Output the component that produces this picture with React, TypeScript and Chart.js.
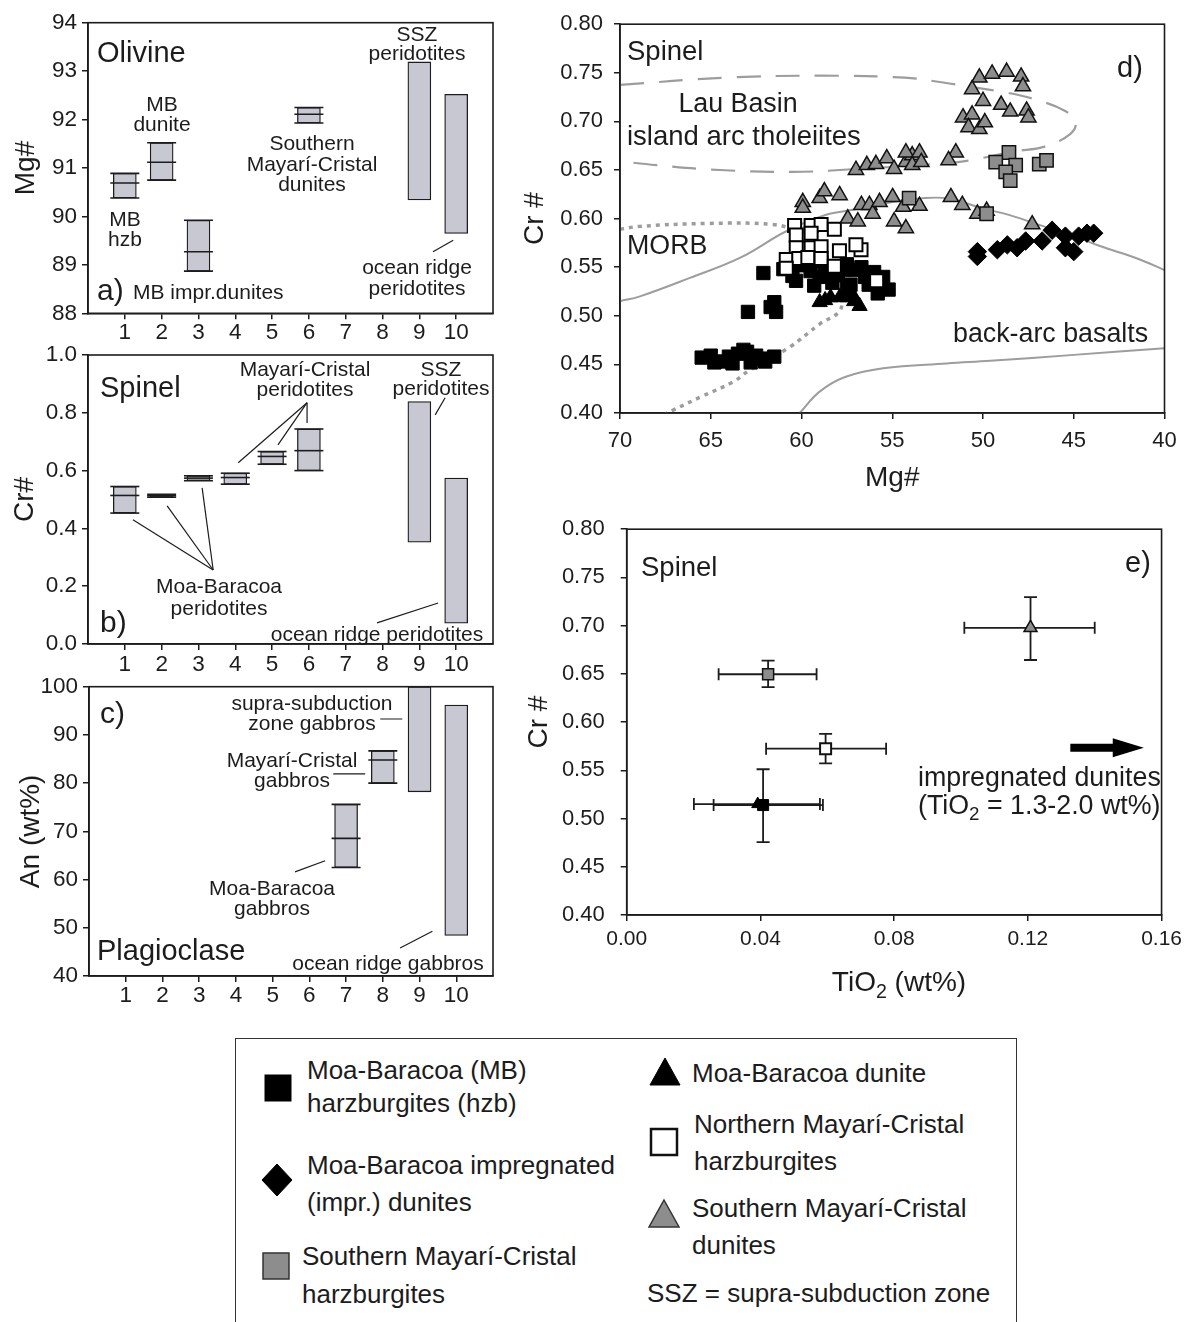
import React, { useEffect, useRef } from "react";
import { Chart, registerables } from "chart.js";

Chart.register(...registerables);

const FONT = "'Liberation Sans', Arial, Helvetica, sans-serif";
const INK = "#1c1c1c";
const BOX_FILL = "#c8c8d2";
const MARK_GRAY = "#8d8d8d";
const CURVE_GRAY = "#9d9d9d";

// ---------------- a) Olivine Mg# ----------------
const aCategories = [1, 2, 3, 6, 9, 10];
const aMin = [90.38, 90.75, 88.87, 91.93, 90.34, 89.65];
const aMax = [90.89, 91.52, 89.92, 92.25, 93.19, 92.52];
const aMean: (number | null)[] = [90.69, 91.12, 89.27, 92.11, null, null];
const aLeaders = [[9.37, 89.27, 9.92, 89.51]];

// ---------------- b) Spinel Cr# ----------------
const bCategories = [1, 2, 3, 4, 5, 6, 9, 10];
const bMin = [0.453, 0.508, 0.565, 0.553, 0.622, 0.6, 0.352, 0.072];
const bMax = [0.545, 0.518, 0.582, 0.591, 0.666, 0.744, 0.839, 0.574];
const bMean: (number | null)[] = [0.514, 0.513, 0.574, 0.576, 0.649, 0.669, null, null];
const bLeaders = [
  [5.95, 0.835, 4.08, 0.627],
  [5.95, 0.835, 5.16, 0.689],
  [5.95, 0.835, 5.95, 0.765],
  [9.7, 0.852, 9.43, 0.793],
  [3.4, 0.256, 1.22, 0.43],
  [3.4, 0.256, 2.15, 0.478],
  [3.4, 0.256, 3.1, 0.54],
  [7.85, 0.073, 9.51, 0.142],
];

// ---------------- c) Plagioclase An ----------------
const cCategories = [7, 8, 9, 10];
const cMin = [62.5, 80.0, 78.2, 48.4];
const cMax = [75.6, 86.7, 100, 96.2];
const cMean: (number | null)[] = [68.55, 84.8, null, null];
const cLeaders = [
  [7.93, 93.3, 8.53, 93.3],
  [6.65, 81.9, 7.52, 81.9],
  [5.61, 61.6, 6.43, 63.9],
  [8.47, 45.8, 9.35, 49.3],
];

// ---------------- d) Spinel Cr# vs Mg# ----------------
const mbHzbMg = [61.0, 60.5, 60.0, 59.5, 59.0, 58.5, 58.0, 57.5, 57.0, 56.5, 60.3, 59.3, 58.3, 57.3, 59.7, 57.7, 60.7, 58.7, 56.7, 56.3, 57.5, 55.8, 55.2, 58.9, 56.0, 55.5,
  62.1, 61.5, 61.7, 61.4, 62.95,
  65.5, 65.0, 64.5, 64.0, 63.5, 63.0, 62.5, 62.0, 61.5, 64.8, 63.8, 62.8, 63.2, 62.2];
const mbHzbCr = [0.548, 0.541, 0.552, 0.546, 0.54, 0.55, 0.542, 0.553, 0.547, 0.54, 0.536, 0.531, 0.534, 0.532, 0.556, 0.547, 0.553, 0.545, 0.55, 0.532, 0.528, 0.523, 0.527, 0.556, 0.545, 0.54,
  0.544, 0.514, 0.509, 0.504, 0.504,
  0.457, 0.459, 0.453, 0.458, 0.461, 0.463, 0.459, 0.453, 0.458, 0.452, 0.451, 0.452, 0.465, 0.456];

const mbDunMg = [59.0, 58.4, 57.9, 57.45, 57.1, 56.8, 58.7, 57.7, 57.2];
const mbDunCr = [0.514, 0.519, 0.519, 0.519, 0.515, 0.51, 0.516, 0.521, 0.522];

const mbImprMg = [50.31, 50.31, 49.21, 48.66, 48.12, 47.65, 46.74, 46.19, 45.46, 45.46, 45.0, 44.73, 44.27, 43.9];
const mbImprCr = [0.566, 0.561, 0.568, 0.573, 0.57, 0.577, 0.577, 0.588, 0.582, 0.57, 0.566, 0.582, 0.585, 0.585];

const nmcHzbMg = [60.38, 59.47, 58.92, 58.19, 59.47, 60.29, 60.29, 59.47, 58.92, 57.91, 56.72, 60.84, 60.15, 59.65, 58.92, 58.19, 60.84, 55.86, 57.0];
const nmcHzbCr = [0.593, 0.593, 0.594, 0.589, 0.585, 0.583, 0.57, 0.57, 0.571, 0.567, 0.568, 0.558, 0.559, 0.56, 0.559, 0.551, 0.549, 0.536, 0.573];

const smcHzbMg = [48.57, 49.3, 48.2, 48.75, 48.5, 46.9, 46.5, 54.07, 49.8];
const smcHzbCr = [0.668, 0.658, 0.655, 0.648, 0.639, 0.656, 0.66, 0.621, 0.605];

const smcDunMg = [50.2, 49.5, 48.7, 47.9, 47.8, 50.6, 50.0, 49.0, 48.5, 47.6, 47.5, 51.1, 50.6, 50.8, 50.2, 49.9,
  57.0, 56.4, 55.9, 55.3, 54.9, 54.25, 53.9, 54.25, 53.5, 53.9, 53.4, 51.5, 51.9,
  59.93, 59.0, 58.74, 57.9, 59.93, 57.45, 56.9, 56.7, 56.26, 56.08, 55.7, 54.98, 54.9, 54.25, 54.4, 53.5, 51.77, 51.14, 50.31, 49.8, 47.29];
const smcDunCr = [0.745, 0.749, 0.751, 0.746, 0.736, 0.733, 0.721, 0.717, 0.71, 0.711, 0.704, 0.704, 0.707, 0.694, 0.692, 0.699,
  0.65, 0.655, 0.656, 0.662, 0.651, 0.658, 0.665, 0.668, 0.668, 0.655, 0.658, 0.668, 0.66,
  0.617, 0.621, 0.628, 0.624, 0.611, 0.6, 0.597, 0.614, 0.614, 0.605, 0.617, 0.622, 0.597, 0.59, 0.612, 0.613, 0.622, 0.614, 0.605, 0.608, 0.594];

// field boundaries (Mg#, Cr#)
const lauMg = [70, 64.2, 59.0, 54.3, 52.2, 50.5, 48.8, 47.2, 45.5, 44.9, 45.2, 46.6, 48.3, 50.7, 52.0, 57.0, 60.5, 64.5, 68.0, 70];
const lauCr = [0.7375, 0.745, 0.747, 0.745, 0.74, 0.735, 0.73, 0.723, 0.711, 0.699, 0.687, 0.674, 0.669, 0.66, 0.657, 0.651, 0.648, 0.65, 0.655, 0.659];
const morbMg = [70, 68.9, 65.2, 61.6, 60.4, 59.5, 58.6, 58.0, 57.8, 57.9, 59.0, 60.66, 62.86, 63.77, 65.5, 67.07, 67.5];
const morbCr = [0.589, 0.592, 0.595, 0.594, 0.588, 0.578, 0.56, 0.54, 0.522, 0.505, 0.4915, 0.4677, 0.444, 0.432, 0.417, 0.403, 0.399];
const arcUpperMg = [70, 68.9, 66.15, 63.4, 60.84, 58.64, 57.18, 55.0, 53.5, 51.9, 50.04, 48.57, 46.9, 45.1, 43.6, 41.5, 40];
const arcUpperCr = [0.515, 0.52, 0.539, 0.5595, 0.587, 0.604, 0.609, 0.617, 0.6207, 0.6207, 0.6105, 0.6038, 0.5935, 0.583, 0.572, 0.559, 0.547];
const backArcMg = [60.1, 59.0, 57.6, 55.5, 52.0, 49.6, 45.0, 40];
const backArcCr = [0.4, 0.422, 0.437, 0.446, 0.451, 0.4537, 0.4598, 0.4667];

// ---------------- e) Spinel Cr# vs TiO2 ----------------
// order: MB hzb, MB dunite, S. Mayarí-Cristal hzb, N. Mayarí-Cristal hzb, S. Mayarí-Cristal dunites
const eTiO2 = [0.0408, 0.0392, 0.0423, 0.0595, 0.1208];
const eCr = [0.514, 0.515, 0.6496, 0.5724, 0.6977];
const eTiO2Low = [0.026, 0.0201, 0.0275, 0.0417, 0.101];
const eTiO2High = [0.0587, 0.0578, 0.0568, 0.0776, 0.14];
const eCrLow: (number | null)[] = [0.4755, null, 0.6362, 0.5572, 0.6644];
const eCrHigh: (number | null)[] = [0.5511, null, 0.6637, 0.5878, 0.7296];
const arrowTiO2 = [0.1327, 0.1454, 0.1547];
const arrowCr = 0.5734;

// ---------------- helpers ----------------
const zip = (xs: number[], ys: number[]) => xs.map((x, i) => ({ x, y: ys[i] }));

const framePlugin = {
  id: "frame",
  afterDatasetsDraw(chart: any) {
    const { ctx, chartArea } = chart;
    ctx.save();
    ctx.strokeStyle = INK;
    ctx.lineWidth = 1.6;
    ctx.strokeRect(chartArea.left, chartArea.top, chartArea.right - chartArea.left, chartArea.bottom - chartArea.top);
    ctx.restore();
  },
};

const arrowPlugin = {
  id: "arrow",
  afterDatasetsDraw(chart: any) {
    const { ctx } = chart;
    const xs = chart.scales.x;
    const ys = chart.scales.y;
    const x0 = xs.getPixelForValue(arrowTiO2[0]);
    const x1 = xs.getPixelForValue(arrowTiO2[1]);
    const x2 = xs.getPixelForValue(arrowTiO2[2]);
    const y = ys.getPixelForValue(arrowCr);
    ctx.save();
    ctx.fillStyle = "#000";
    ctx.beginPath();
    ctx.moveTo(x0, y - 4);
    ctx.lineTo(x1, y - 4);
    ctx.lineTo(x1, y - 9.5);
    ctx.lineTo(x2, y);
    ctx.lineTo(x1, y + 9.5);
    ctx.lineTo(x1, y + 4);
    ctx.lineTo(x0, y + 4);
    ctx.closePath();
    ctx.fill();
    ctx.restore();
  },
};

const tickGrid = { display: true, drawOnChartArea: false, drawTicks: true, tickLength: 6, color: INK, lineWidth: 1.5, offset: false };
const axisBorder = { display: true, color: INK, width: 1.6 };

type Area = { l: number; t: number; r: number; b: number };

function boxChart(p: {
  cats: number[]; min: number[]; max: number[]; mean: (number | null)[]; leaders: number[][];
  yMin: number; yMax: number; yStep: number; yDigits: number; yTitle: string; titlePad: number;
  w: number; h: number; area: Area; xPad: number;
}) {
  const caps: { x: number; y: number }[] = [];
  p.cats.forEach((x, i) => {
    const m = p.mean[i];
    if (m != null) caps.push({ x, y: p.min[i] }, { x, y: p.max[i] }, { x, y: m });
  });
  return {
    type: "bar",
    data: {
      datasets: [
        {
          type: "bar",
          data: p.cats.map((x, i) => ({ x, y: [p.min[i], p.max[i]] })),
          backgroundColor: BOX_FILL,
          borderColor: INK,
          borderWidth: 1.3,
          borderSkipped: false,
          barThickness: 23,
          order: 3,
        },
        {
          type: "scatter",
          data: caps,
          pointStyle: "line",
          pointRadius: 14.5,
          pointBorderColor: INK,
          pointBorderWidth: 1.6,
          borderColor: INK,
          order: 2,
        },
        ...p.leaders.map((l) => ({
          type: "line",
          data: [{ x: l[0], y: l[1] }, { x: l[2], y: l[3] }],
          borderColor: INK,
          borderWidth: 1.2,
          pointRadius: 0,
          order: 1,
        })),
      ],
    },
    options: {
      animation: false,
      responsive: false,
      devicePixelRatio: 1,
      events: [],
      layout: { padding: { left: 0, top: p.area.t, right: p.w - p.area.r, bottom: 0 } },
      plugins: { legend: { display: false }, tooltip: { enabled: false } },
      scales: {
        x: {
          type: "linear",
          min: 0,
          max: 11,
          offset: false,
          afterBuildTicks: (s: any) => {
            s.ticks = s.ticks.filter((t: any) => t.value >= 1 && t.value <= 10);
          },
          afterFit: (s: any) => {
            s.height = p.h - p.area.b;
          },
          ticks: { stepSize: 1, autoSkip: false, maxRotation: 0, padding: p.xPad, color: INK, font: { family: FONT, size: 22.5 } },
          grid: tickGrid,
          border: axisBorder,
        },
        y: {
          type: "linear",
          min: p.yMin,
          max: p.yMax,
          beginAtZero: false,
          afterFit: (s: any) => {
            s.width = p.area.l;
          },
          ticks: {
            stepSize: p.yStep,
            padding: 5,
            color: INK,
            font: { family: FONT, size: 22.5 },
            callback: (v: any) => Number(v).toFixed(p.yDigits),
          },
          grid: tickGrid,
          border: axisBorder,
          title: { display: true, text: p.yTitle, color: INK, font: { family: FONT, size: 28 }, padding: { top: p.titlePad, bottom: 0 } },
        },
      },
    },
    plugins: [framePlugin],
  };
}

function scatterSet(xs: number[], ys: number[], style: string, radius: number, fill: string, stroke: string, bw: number, order: number) {
  return {
    type: "scatter",
    data: zip(xs, ys),
    pointStyle: style,
    pointRadius: radius,
    pointBackgroundColor: fill,
    pointBorderColor: stroke,
    pointBorderWidth: bw,
    backgroundColor: fill,
    borderColor: stroke,
    order,
  };
}

function curveSet(xs: number[], ys: number[], dash: number[], width: number) {
  return {
    type: "line",
    data: zip(xs, ys),
    borderColor: CURVE_GRAY,
    borderWidth: width,
    borderDash: dash,
    pointRadius: 0,
    tension: 0.4,
    fill: false,
    order: 20,
  };
}

function crAxis(area: Area, titlePad: number, tickPad: number) {
  return {
    type: "linear",
    min: 0.4,
    max: 0.8,
    afterFit: (s: any) => {
      s.width = area.l;
    },
    ticks: { stepSize: 0.05, padding: tickPad, color: INK, font: { family: FONT, size: 22 }, callback: (v: any) => Number(v).toFixed(2) },
    grid: tickGrid,
    border: axisBorder,
    title: { display: true, text: "Cr #", color: INK, font: { family: FONT, size: 28 }, padding: { top: titlePad, bottom: 0 } },
  };
}

const dW = 683, dH = 500;
const dArea: Area = { l: 115, t: 21, r: 659.5, b: 413 };

function dChart() {
  return {
    type: "scatter",
    data: {
      datasets: [
        curveSet(lauMg, lauCr, [24, 15], 2.2),
        curveSet(morbMg, morbCr, [4, 5], 3.5),
        curveSet(arcUpperMg, arcUpperCr, [], 2),
        curveSet(backArcMg, backArcCr, [], 2),
        scatterSet(mbHzbMg, mbHzbCr, "rect", 9.4, "#000", "#000", 1, 6),
        scatterSet(mbDunMg, mbDunCr, "triangle", 8.8, "#000", "#000", 1, 5),
        scatterSet(nmcHzbMg, nmcHzbCr, "rect", 9.2, "#fff", "#000", 2, 4),
        scatterSet(mbImprMg, mbImprCr, "rectRot", 9.2, "#000", "#000", 1, 3),
        scatterSet(smcDunMg, smcDunCr, "triangle", 8.8, MARK_GRAY, "#111", 1.5, 2),
        scatterSet(smcHzbMg, smcHzbCr, "rect", 9.4, MARK_GRAY, "#111", 1.5, 1),
      ],
    },
    options: {
      animation: false,
      responsive: false,
      devicePixelRatio: 1,
      events: [],
      layout: { padding: { left: 0, top: dArea.t, right: dW - dArea.r, bottom: 0 } },
      plugins: { legend: { display: false }, tooltip: { enabled: false } },
      scales: {
        x: {
          type: "linear",
          min: 40,
          max: 70,
          reverse: true,
          afterFit: (s: any) => {
            s.height = dH - dArea.b;
          },
          ticks: { stepSize: 5, padding: 9, color: INK, font: { family: FONT, size: 22 }, maxRotation: 0 },
          grid: tickGrid,
          border: axisBorder,
          title: { display: true, text: "Mg#", color: INK, font: { family: FONT, size: 28 }, padding: { top: 0, bottom: 5 } },
        },
        y: crAxis(dArea, 13, 11),
      },
    },
    plugins: [framePlugin],
  };
}

const eW = 683, eH = 510;
const eArea: Area = { l: 121.7, t: 26.7, r: 662.7, b: 415 };
const eStyles = [
  { style: "rect", r: 7.8, fill: "#000", stroke: "#000", bw: 1 },
  { style: "triangle", r: 7, fill: "#000", stroke: "#000", bw: 1 },
  { style: "rect", r: 7.8, fill: MARK_GRAY, stroke: "#111", bw: 1.5 },
  { style: "rect", r: 7.8, fill: "#fff", stroke: "#111", bw: 2 },
  { style: "triangle", r: 7.5, fill: MARK_GRAY, stroke: "#111", bw: 1.5 },
];

function eChart() {
  const bars: any[] = [];
  eTiO2.forEach((x, i) => {
    bars.push({
      type: "line",
      data: [{ x: eTiO2Low[i], y: eCr[i] }, { x: eTiO2High[i], y: eCr[i] }],
      borderColor: INK,
      borderWidth: 1.8,
      pointStyle: "line",
      pointRotation: 90,
      pointRadius: 6,
      pointBorderColor: INK,
      pointBorderWidth: 1.8,
      order: 10,
    });
    const lo = eCrLow[i];
    const hi = eCrHigh[i];
    if (lo != null && hi != null) {
      bars.push({
        type: "line",
        data: [{ x, y: lo }, { x, y: hi }],
        borderColor: INK,
        borderWidth: 1.8,
        pointStyle: "line",
        pointRotation: 0,
        pointRadius: 6.5,
        pointBorderColor: INK,
        pointBorderWidth: 1.8,
        order: 10,
      });
    }
  });
  const marks = eTiO2.map((x, i) => {
    const s = eStyles[i];
    return scatterSet([x], [eCr[i]], s.style, s.r, s.fill, s.stroke, s.bw, 5 - i);
  });
  return {
    type: "scatter",
    data: { datasets: [...bars, ...marks] },
    options: {
      animation: false,
      responsive: false,
      devicePixelRatio: 1,
      events: [],
      layout: { padding: { left: 0, top: eArea.t, right: eW - eArea.r, bottom: 0 } },
      plugins: { legend: { display: false }, tooltip: { enabled: false } },
      scales: {
        x: {
          type: "linear",
          min: 0,
          max: 0.16,
          afterFit: (s: any) => {
            s.height = eH - eArea.b;
          },
          ticks: { stepSize: 0.04, padding: 6, color: INK, font: { family: FONT, size: 21 }, maxRotation: 0, callback: (v: any) => Number(v).toFixed(2) },
          grid: tickGrid,
          border: axisBorder,
        },
        y: crAxis(eArea, 17, 16),
      },
    },
    plugins: [framePlugin, arrowPlugin],
  };
}

function ChartCanvas({ left, top, width, height, make }: { left: number; top: number; width: number; height: number; make: () => any }) {
  const ref = useRef<HTMLCanvasElement | null>(null);
  useEffect(() => {
    if (!ref.current) return;
    const chart = new Chart(ref.current, make());
    return () => chart.destroy();
  }, []);
  return (
    <canvas
      ref={ref}
      width={width}
      height={height}
      style={{ position: "absolute", left, top, width, height }}
    />
  );
}

function Txt({ x, y, size = 21, left = false, children }: { x: number; y: number; size?: number; left?: boolean; children: any }) {
  return (
    <div
      style={{
        position: "absolute",
        left: x,
        top: y,
        transform: left ? "translate(0,-50%)" : "translate(-50%,-50%)",
        fontFamily: FONT,
        fontSize: size,
        lineHeight: 1,
        whiteSpace: "nowrap",
        color: INK,
      }}
    >
      {children}
    </div>
  );
}

function Marker({ x, y, kind, fill, stroke, sw }: { x: number; y: number; kind: string; fill: string; stroke: string; sw: number }) {
  const w = 32, h = 34;
  let shape: any = null;
  if (kind === "square") shape = <rect x={3} y={4} width={26} height={26} fill={fill} stroke={stroke} strokeWidth={sw} />;
  if (kind === "diamond") shape = <polygon points="16,1 31,17 16,33 1,17" fill={fill} stroke={stroke} strokeWidth={sw} />;
  if (kind === "triangle") shape = <polygon points="16,3 31,30 1,30" fill={fill} stroke={stroke} strokeWidth={sw} />;
  return (
    <svg width={w} height={h} style={{ position: "absolute", left: x - w / 2, top: y - h / 2 }}>
      {shape}
    </svg>
  );
}

export default function App() {
  const L = 26;
  const D = 26.8;
  return (
    <div style={{ position: "absolute", left: 0, top: 0, width: 1188, height: 1322, background: "#fff", overflow: "hidden" }}>
      <ChartCanvas
        left={0} top={0} width={520} height={345}
        make={() =>
          boxChart({ cats: aCategories, min: aMin, max: aMax, mean: aMean, leaders: aLeaders, yMin: 88, yMax: 94, yStep: 1, yDigits: 0, yTitle: "Mg#", titlePad: 9, w: 520, h: 345, area: { l: 88, t: 22.7, r: 493, b: 313.3 }, xPad: 0 })
        }
      />
      <ChartCanvas
        left={0} top={335} width={520} height={345}
        make={() =>
          boxChart({ cats: bCategories, min: bMin, max: bMax, mean: bMean, leaders: bLeaders, yMin: 0, yMax: 1, yStep: 0.2, yDigits: 1, yTitle: "Cr#", titlePad: 8, w: 520, h: 345, area: { l: 88, t: 20, r: 493, b: 309 }, xPad: 1 })
        }
      />
      <ChartCanvas
        left={0} top={668} width={520} height={352}
        make={() =>
          boxChart({ cats: cCategories, min: cMin, max: cMax, mean: cMean, leaders: cLeaders, yMin: 40, yMax: 100, yStep: 10, yDigits: 0, yTitle: "An (wt%)", titlePad: 14, w: 520, h: 352, area: { l: 89, t: 18.7, r: 493, b: 308 }, xPad: 0 })
        }
      />
      <ChartCanvas left={505} top={0} width={dW} height={dH} make={dChart} />
      <ChartCanvas left={505} top={500} width={eW} height={eH} make={eChart} />

      {/* panel a labels */}
      <Txt x={97} y={52} size={29} left>Olivine</Txt>
      <Txt x={417} y={33}>SSZ</Txt>
      <Txt x={417} y={52}>peridotites</Txt>
      <Txt x={162} y={103}>MB</Txt>
      <Txt x={162} y={123}>dunite</Txt>
      <Txt x={125} y={218}>MB</Txt>
      <Txt x={125} y={238}>hzb</Txt>
      <Txt x={312} y={142}>Southern</Txt>
      <Txt x={312} y={163}>Mayarí-Cristal</Txt>
      <Txt x={312} y={183}>dunites</Txt>
      <Txt x={417} y={266}>ocean ridge</Txt>
      <Txt x={417} y={287}>peridotites</Txt>
      <Txt x={97} y={290} size={30} left>a)</Txt>
      <Txt x={133} y={291} left>MB impr.dunites</Txt>

      {/* panel b labels */}
      <Txt x={100} y={387} size={29} left>Spinel</Txt>
      <Txt x={305} y={368}>Mayarí-Cristal</Txt>
      <Txt x={305} y={388}>peridotites</Txt>
      <Txt x={441} y={368}>SSZ</Txt>
      <Txt x={441} y={387}>peridotites</Txt>
      <Txt x={219} y={585}>Moa-Baracoa</Txt>
      <Txt x={219} y={607}>peridotites</Txt>
      <Txt x={100} y={622} size={30} left>b)</Txt>
      <Txt x={377} y={633}>ocean ridge peridotites</Txt>

      {/* panel c labels */}
      <Txt x={100} y={713} size={30} left>c)</Txt>
      <Txt x={312} y={702}>supra-subduction</Txt>
      <Txt x={312} y={722}>zone gabbros</Txt>
      <Txt x={292} y={759}>Mayarí-Cristal</Txt>
      <Txt x={292} y={779}>gabbros</Txt>
      <Txt x={272} y={887}>Moa-Baracoa</Txt>
      <Txt x={272} y={907}>gabbros</Txt>
      <Txt x={97} y={950} size={29} left>Plagioclase</Txt>
      <Txt x={388} y={962}>ocean ridge gabbros</Txt>

      {/* panel d labels */}
      <Txt x={627} y={51} size={27.5} left>Spinel</Txt>
      <Txt x={1117} y={67} size={29} left>d)</Txt>
      <Txt x={738} y={103} size={D}>Lau Basin</Txt>
      <Txt x={627} y={136} size={27.5} left>island arc tholeiites</Txt>
      <Txt x={627} y={245} size={D} left>MORB</Txt>
      <Txt x={953} y={333} size={D} left>back-arc basalts</Txt>

      {/* panel e labels */}
      <Txt x={641} y={567} size={27.5} left>Spinel</Txt>
      <Txt x={1125} y={562} size={29} left>e)</Txt>
      <Txt x={918} y={777} size={D} left>impregnated dunites</Txt>
      <Txt x={918} y={808} size={D} left>
        (TiO<sub style={{ fontSize: "0.7em" }}>2</sub> = 1.3-2.0 wt%)
      </Txt>
      <Txt x={899} y={985} size={28}>
        TiO<sub style={{ fontSize: "0.7em" }}>2</sub> (wt%)
      </Txt>

      {/* legend */}
      <div style={{ position: "absolute", left: 235, top: 1038, width: 782, height: 320, border: "1.5px solid #333", boxSizing: "border-box" }} />
      <Marker x={278} y={1088} kind="square" fill="#000" stroke="#000" sw={1} />
      <Txt x={307} y={1070} size={L} left>Moa-Baracoa (MB)</Txt>
      <Txt x={307} y={1103} size={L} left>harzburgites (hzb)</Txt>
      <Marker x={277} y={1180} kind="diamond" fill="#000" stroke="#000" sw={1} />
      <Txt x={307} y={1165} size={L} left>Moa-Baracoa impregnated</Txt>
      <Txt x={307} y={1202} size={L} left>(impr.) dunites</Txt>
      <Marker x={276} y={1266} kind="square" fill={MARK_GRAY} stroke="#333" sw={1.5} />
      <Txt x={302} y={1256} size={L} left>Southern Mayarí-Cristal</Txt>
      <Txt x={302} y={1294} size={L} left>harzburgites</Txt>
      <Marker x={665} y={1072} kind="triangle" fill="#000" stroke="#000" sw={1} />
      <Txt x={692} y={1073} size={L} left>Moa-Baracoa dunite</Txt>
      <Marker x={664} y={1142} kind="square" fill="#fff" stroke="#111" sw={2.5} />
      <Txt x={694} y={1124} size={L} left>Northern Mayarí-Cristal</Txt>
      <Txt x={694} y={1161} size={L} left>harzburgites</Txt>
      <Marker x={664} y={1214} kind="triangle" fill={MARK_GRAY} stroke="#333" sw={1.5} />
      <Txt x={692} y={1208} size={L} left>Southern Mayarí-Cristal</Txt>
      <Txt x={692} y={1245} size={L} left>dunites</Txt>
      <Txt x={647} y={1293} size={L} left>SSZ = supra-subduction zone</Txt>
    </div>
  );
}
